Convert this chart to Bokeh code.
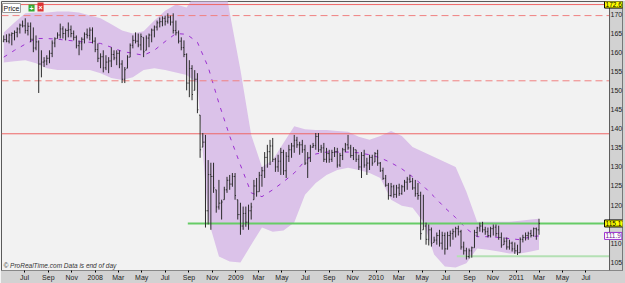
import pandas as pd
from bokeh.plotting import figure
from bokeh.models import ColumnDataSource, Range1d, FixedTicker, Span, Label, BoxAnnotation
from bokeh.embed import file_html
from bokeh.resources import INLINE

# ---------------- data ----------------
first_week = "2007-05-08"
highs = [
164.5,164.8,165.0,165.3,165.8,166.6,167.6,168.4,169.0,167.9,
167.9,166.6,164.5,163.2,160.6,158.8,159.3,160.6,163.2,164.0,
165.3,167.6,166.9,166.3,167.9,167.1,165.8,164.5,163.2,164.0,
165.3,166.3,166.6,166.6,164.0,162.4,159.8,160.6,159.3,158.8,
161.4,160.6,160.6,160.6,158.0,156.2,159.3,162.4,164.5,165.3,
165.0,165.0,164.0,164.5,165.0,166.3,167.1,168.4,169.2,169.5,
169.7,170.3,169.7,170.3,168.4,165.8,164.0,163.2,159.8,158.0,
156.7,155.4,154.6,143.6,138.9,138.4,131.8,131.1,131.1,124.0,
126.6,121.4,124.8,127.4,127.9,128.4,128.4,121.4,120.6,119.6,
119.6,120.1,120.6,126.6,127.1,128.7,130.0,133.9,135.8,137.1,
137.6,132.4,133.2,135.0,134.5,133.9,135.8,136.3,138.4,137.9,
136.6,137.1,135.8,133.9,135.8,136.3,138.9,138.9,135.8,136.3,
135.0,134.5,134.5,135.2,135.0,133.7,135.0,136.3,138.4,135.8,
135.2,134.5,133.2,133.9,134.5,132.4,133.2,133.2,133.9,134.5,
131.3,129.8,127.9,125.8,125.8,125.3,125.3,125.6,125.3,126.6,
127.4,127.9,127.1,126.6,125.8,123.5,122.7,115.4,114.9,114.1,
111.7,112.8,113.5,113.0,112.8,113.0,113.3,113.8,114.3,114.6,
113.5,110.4,108.8,108.6,109.1,113.5,114.3,115.4,115.6,114.3,
114.1,114.3,114.9,114.9,114.6,112.8,111.5,111.5,110.9,110.4,
110.2,109.6,111.5,112.2,112.8,113.0,113.5,114.1,114.1,116.4]
lows = [
162.7,162.7,162.4,161.9,163.2,164.0,165.0,166.6,165.0,164.5,
162.7,160.1,160.6,149.4,153.5,156.2,156.7,157.2,158.8,161.4,
163.7,163.7,163.7,163.2,164.0,164.0,163.2,161.1,159.3,160.6,
162.4,163.7,163.2,162.4,160.1,157.5,155.9,154.8,155.4,154.6,
156.2,158.0,156.7,155.9,152.0,152.0,155.9,158.8,161.1,162.4,
161.4,160.6,158.8,160.6,161.4,162.7,164.0,165.8,166.6,166.9,
167.1,167.6,167.1,165.0,164.5,162.4,160.6,158.8,150.1,148.3,
147.5,150.1,144.1,132.4,135.2,114.1,114.9,113.5,123.2,118.0,
118.8,116.2,121.4,123.2,124.0,124.8,121.4,116.2,112.2,113.5,
114.3,113.5,116.2,121.4,122.2,123.5,124.8,127.1,129.8,130.5,
131.3,128.7,128.7,127.9,127.9,127.1,131.3,132.4,133.7,135.0,
133.2,133.7,130.5,127.1,131.3,135.0,134.5,133.9,133.7,131.3,
131.1,131.1,131.3,132.6,129.8,130.0,131.8,133.9,134.5,132.4,
131.8,131.3,129.2,127.1,129.8,127.9,129.2,130.3,131.3,130.3,
128.7,126.6,124.8,121.4,122.2,121.9,121.9,122.4,122.7,123.5,
124.0,125.8,124.0,122.2,121.4,110.9,113.5,109.6,109.4,109.1,
110.2,109.6,109.1,108.3,107.0,108.3,109.1,110.9,111.5,112.0,
108.3,107.0,105.7,106.0,106.2,108.8,111.7,113.0,112.8,112.2,
111.5,111.5,112.0,111.7,110.9,108.8,109.6,108.3,108.3,107.8,
107.2,106.9,107.5,110.2,110.7,110.9,111.5,111.7,110.9,112.2]
opens = [
163.0,163.4,163.0,164.6,165.0,165.3,166.2,167.2,167.0,165.8,
166.9,163.5,161.2,162.8,157.0,157.5,157.8,158.5,159.8,162.5,
163.7,164.6,166.2,165.0,165.8,166.0,165.0,164.0,161.8,162.5,
163.5,164.8,164.5,165.9,163.0,160.8,158.5,158.9,156.0,157.5,
157.8,159.5,158.6,159.8,157.0,153.0,155.9,158.8,161.9,163.2,
163.0,162.0,164.0,160.6,163.8,164.6,165.9,166.7,167.8,168.1,
169.0,168.2,169.3,168.0,165.8,165.2,163.0,161.3,159.5,152.0,
155.8,150.1,153.0,143.6,135.2,136.5,118.5,128.0,127.5,124.0,
119.5,120.5,121.4,124.0,126.5,125.5,127.5,121.4,117.5,114.5,
117.8,115.5,118.5,121.4,125.0,123.5,127.8,129.0,132.5,134.0,
135.5,132.0,130.0,131.5,133.8,129.0,132.8,134.5,135.5,137.0,
135.8,135.8,134.5,131.0,132.5,135.2,135.6,138.0,134.5,135.0,
132.0,133.5,132.0,133.8,134.0,130.5,133.0,134.5,135.8,135.0,
133.0,134.5,132.0,130.0,133.0,130.5,131.0,132.5,131.3,133.5,
131.0,129.0,127.0,125.2,122.5,124.8,122.8,124.5,123.0,124.8,
126.0,126.8,126.2,124.5,123.0,122.5,113.5,114.5,111.0,113.5,
110.2,110.8,112.0,110.0,112.0,108.5,112.0,112.5,113.0,113.8,
113.0,109.0,108.0,106.5,108.0,108.8,112.8,114.0,114.5,113.5,
113.0,112.0,113.8,114.2,112.5,111.5,109.6,110.5,109.0,110.0,
108.5,108.0,107.5,111.0,111.5,112.0,112.5,112.0,113.8,113.5]
closes = [
163.4,163.0,164.6,165.0,165.3,166.2,167.2,167.0,165.8,166.9,
163.5,161.2,162.8,157.0,157.5,157.8,158.5,159.8,162.5,163.6,
164.6,166.2,165.0,165.8,166.0,165.0,164.0,161.8,162.5,163.5,
164.8,164.5,165.9,163.0,160.8,158.5,158.9,156.0,157.5,157.8,
159.5,158.6,159.8,157.0,153.0,155.5,158.8,161.9,163.2,163.0,
162.0,164.2,160.2,163.8,164.6,165.9,166.7,167.8,168.1,169.0,
168.2,169.3,168.0,165.8,165.2,163.0,161.3,159.5,152.0,155.8,
149.0,153.0,145.0,134.5,136.5,118.5,128.0,127.5,124.5,119.5,
120.5,120.8,124.0,126.5,125.5,127.5,122.5,117.5,114.5,117.8,
115.5,118.5,119.5,125.0,123.5,127.8,129.0,132.5,134.0,135.5,
132.0,130.0,131.5,133.8,129.0,132.8,134.5,135.5,137.0,135.8,
135.8,134.5,131.0,132.5,135.2,135.6,138.0,134.5,135.0,132.0,
133.5,132.0,133.8,134.0,130.5,133.0,134.5,135.8,135.0,133.0,
134.5,132.0,130.0,133.0,130.5,131.0,132.5,131.0,133.5,131.0,
129.0,127.0,125.2,122.5,124.8,122.8,124.5,123.0,124.8,126.0,
126.8,126.2,124.5,123.0,122.5,112.5,114.5,111.0,113.5,110.0,
110.8,112.0,110.0,112.0,108.5,112.0,112.5,113.0,113.8,113.0,
109.0,108.0,106.5,108.0,108.8,112.8,114.0,114.5,113.5,113.0,
112.0,113.8,114.2,112.5,111.5,109.5,110.5,109.0,110.0,108.5,
108.0,107.5,111.0,111.5,112.0,112.5,112.0,113.8,113.5,115.17]

# Bollinger envelope read every 4 weeks (week index) plus the last week
band_week = [0,4,8,12,16,20,24,28,32,36,40,44,48,52,56,60,64,68,72,76,
             80,84,88,92,96,100,104,108,112,116,120,124,128,132,136,140,
             144,148,152,156,160,164,168,172,176,180,184,188,192,196,199]
band_upper = [165.3,167.9,170.3,170.5,170.5,170.8,170.8,170.5,169.7,169.0,
              167.4,165.8,165.0,165.6,168.4,171.0,172.6,171.8,176.3,184.0,
              187.0,170.5,155.4,138.4,130.0,131.8,136.3,140.7,139.9,139.7,
              139.7,139.4,139.2,137.9,137.1,138.1,139.4,138.1,135.2,133.9,
              132.6,131.3,130.0,123.5,115.6,115.6,115.6,115.6,115.9,116.2,116.4]
band_lower = [157.4,157.7,158.0,157.2,155.9,155.4,155.4,155.4,155.4,154.6,
              153.3,152.8,153.5,155.4,155.9,155.4,154.8,154.1,152.0,116.2,
              106.5,105.2,104.9,109.6,114.1,113.0,113.3,115.4,122.7,125.8,
              127.9,129.2,129.8,129.2,128.4,127.1,121.4,119.8,119.3,115.6,
              107.0,103.9,103.6,104.7,108.6,108.3,107.8,107.3,107.3,107.8,108.3]
band_mid = [158.8,160.6,162.2,163.7,163.7,163.5,163.2,162.9,162.7,162.4,
            161.4,160.3,159.8,159.3,160.6,162.9,165.0,164.8,162.7,156.2,
            146.7,138.1,130.5,123.2,122.2,124.0,126.1,128.4,131.6,133.4,
            133.9,133.9,133.9,133.7,133.2,132.4,131.1,129.5,127.4,125.0,
            122.2,119.3,116.7,113.8,111.7,111.7,111.5,111.2,110.9,111.7,111.9]

# horizontal levels: value, start date (None = whole chart), colour, dash, width
level_values = [172.6, 169.7, 152.6, 138.7, 115.17, 106.6]
level_starts = [None, None, None, None, "2008-08-29", "2010-07-30"]
level_colors = ["#ee6666", "#f08080", "#f08080", "#ee6666", "#66cc66", "#b4e0b4"]
level_dashes = ["solid", "7 4", "7 4", "solid", "solid", "solid"]
level_widths = [1, 1, 1, 1, 2, 2]

tag_values = [172.6, 115.17, band_mid[-1]]
tag_texts = ["172.6", "115.17", "111.9"]

tick_dates = ["2007-07-01", "2007-09-01", "2007-11-01", "2008-01-01", "2008-03-01",
              "2008-05-01", "2008-07-01", "2008-09-01", "2008-11-01", "2009-01-01",
              "2009-03-01", "2009-05-01", "2009-07-01", "2009-09-01", "2009-11-01",
              "2010-01-01", "2010-03-01", "2010-05-01", "2010-07-01", "2010-09-01",
              "2010-11-01", "2011-01-01", "2011-03-01", "2011-05-01", "2011-07-01"]
tick_labels = ["Jul", "Sep", "Nov", "2008", "Mar", "May", "Jul", "Sep", "Nov", "2009",
               "Mar", "May", "Jul", "Sep", "Nov", "2010", "Mar", "May", "Jul", "Sep",
               "Nov", "2011", "Mar", "May", "Jul"]
price_ticks = [105, 110, 115, 120, 125, 130, 135, 140, 145, 150, 155, 160, 165, 170]

# ---------------- build ----------------
day = 86400000.0

def ms(d):
    return pd.Timestamp(d).value / 1e6

def x_at(px):
    # time coordinate of a canvas pixel column (layout helper)
    return ms("2008-01-01") + (px - 95) / 0.3855 * day

weeks = pd.date_range(first_week, periods=len(highs), freq="7D")
tick_w = 2.5 * day

src = ColumnDataSource(dict(
    x=weeks, h=highs, l=lows, o=opens, c=closes,
    xo=[ms(w) - tick_w for w in weeks], xc=[ms(w) + tick_w for w in weeks],
))
bsrc = ColumnDataSource(dict(
    x=[weeks[i] for i in band_week], up=band_upper, lo=band_lower, mid=band_mid,
))

x_start = x_at(1)
x_end = x_at(624)
x_scale_edge = x_at(611)

p = figure(width=625, height=283, output_backend="svg", toolbar_location=None,
           x_axis_type="datetime", y_axis_location="right",
           x_range=Range1d(x_start, x_end), y_range=Range1d(102.83, 173.4),
           min_border_left=1, min_border_right=1, min_border_top=1, min_border_bottom=12)
p.background_fill_color = "#f2f2f2"
p.border_fill_color = "#d2d2d2"
p.outline_line_color = "#5a5a5a"
p.grid.visible = False

# grey price-scale strip at the right
p.add_layout(BoxAnnotation(left=x_scale_edge, fill_color="#d2d2d2", fill_alpha=1.0,
                           line_color=None, level="underlay"))
p.add_layout(Span(location=x_scale_edge, dimension="height", line_color="#5a5a5a",
                  line_width=1))

# Bollinger envelope and its average
p.varea(x="x", y1="lo", y2="up", source=bsrc, fill_color="#dbc2e9", fill_alpha=1.0)
p.line(x="x", y="mid", source=bsrc, line_color="#9b30d0", line_width=1, line_dash="4 6")

# horizontal levels
for lv, st, col, dsh, wd in zip(level_values, level_starts, level_colors,
                                level_dashes, level_widths):
    x0 = x_start if st is None else ms(st)
    p.line(x=[x0, x_scale_edge], y=[lv, lv], line_color=col, line_dash=dsh, line_width=wd)

# OHLC bars
p.segment(x0="x", x1="x", y0="l", y1="h", source=src, line_color="#2b2b2b", line_width=1)
p.segment(x0="xo", x1="x", y0="o", y1="o", source=src, line_color="#2b2b2b", line_width=1)
p.segment(x0="x", x1="xc", y0="c", y1="c", source=src, line_color="#2b2b2b", line_width=1)

# axes
FONT = "Liberation Sans"
xa = p.xaxis[0]
xa.ticker = FixedTicker(ticks=[ms(d) for d in tick_dates])
xa.major_label_overrides = {ms(d): lab for d, lab in zip(tick_dates, tick_labels)}
xa.minor_tick_line_color = None
xa.major_tick_in = 0
xa.major_tick_out = 2
xa.major_label_standoff = 1
xa.major_label_text_font = FONT
xa.major_label_text_font_size = "7px"
xa.major_label_text_color = "#222222"
xa.axis_line_color = "#888888"

ya = p.yaxis[0]
ya.ticker = FixedTicker(ticks=price_ticks)
ya.major_label_overrides = {115: ""}
ya.minor_tick_line_color = None
ya.major_tick_line_color = None
ya.major_tick_in = 0
ya.major_tick_out = 0
ya.major_label_standoff = -12
ya.major_label_text_font = FONT
ya.major_label_text_font_size = "7px"
ya.major_label_text_color = "#222222"
ya.axis_line_color = None

# value tags on the price scale
tag_x = x_at(606)
tag_fill = ["#ffff00", "#ffff00", "#ffffff"]
tag_line = ["#000000", "#000000", "#9b30d0"]
tag_color = ["#000000", "#000000", "#6a2090"]
for v, t, f, lc, tc in zip(tag_values, tag_texts, tag_fill, tag_line, tag_color):
    p.add_layout(Label(x=tag_x, y=v, x_units="data", y_units="data", text=t,
                       text_font="'Liberation Sans Narrow', 'Liberation Sans'",
                       text_font_size="6.5px", text_baseline="middle",
                       text_color=tc, background_fill_color=f, border_line_color=lc,
                       padding=1, level="overlay"))

# panel title box and footer
p.add_layout(Label(x=1, y=258, x_units="screen", y_units="screen", text="Price",
                   text_font=FONT, text_font_size="7px", text_color="#111111",
                   background_fill_color="#ffffff", border_line_color="#999999", padding=1))
p.add_layout(Label(x=27, y=259, x_units="screen", y_units="screen", text="+",
                   text_font=FONT, text_font_size="7px", text_font_style="bold",
                   text_color="#ffffff", background_fill_color="#33aa33", padding=1))
p.add_layout(Label(x=36, y=259, x_units="screen", y_units="screen", text="×",
                   text_font=FONT, text_font_size="7px", text_font_style="bold",
                   text_color="#ffffff", background_fill_color="#dd3333", padding=1))
p.add_layout(Label(x=2, y=2, x_units="screen", y_units="screen",
                   text="© ProRealTime.com   Data is end of day",
                   text_font=FONT, text_font_size="6.5px", text_font_style="italic",
                   text_color="#333333"))

open("out.html", "w").write(file_html(p, INLINE))
